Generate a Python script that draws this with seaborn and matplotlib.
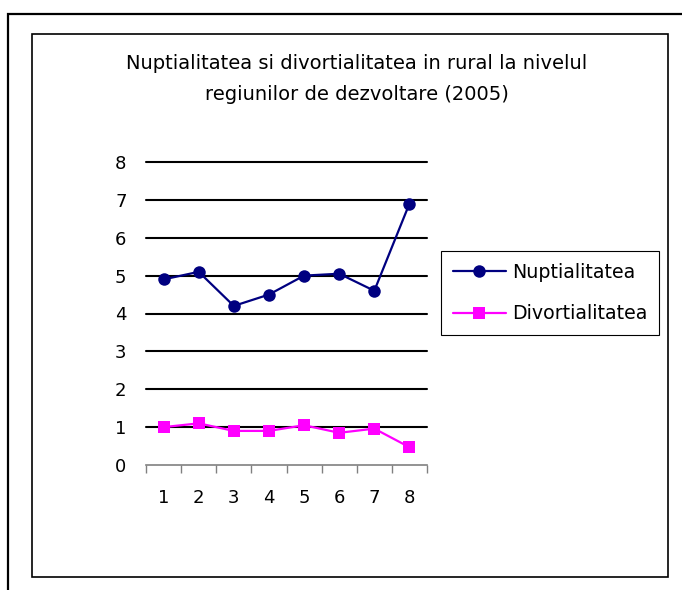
import matplotlib
matplotlib.use("Agg")
import matplotlib.pyplot as plt
import seaborn as sns
import pandas as pd
from matplotlib.patches import Rectangle

regions = [1, 2, 3, 4, 5, 6, 7, 8]
nuptialitatea = [4.9, 5.1, 4.2, 4.5, 5.0, 5.05, 4.6, 6.9]
divortialitatea = [1.0, 1.1, 0.9, 0.9, 1.05, 0.85, 0.96, 0.47]
series_names = ["Nuptialitatea", "Divortialitatea"]
title = "Nuptialitatea si divortialitatea in rural la nivelul\nregiunilor de dezvoltare (2005)"

sns.set_theme(style="white")
plt.rcParams['font.family'] = ['DejaVu Sans']
plt.rcParams['text.color'] = 'black'

df = pd.DataFrame({
    "regiune": regions * 2,
    "valoare": nuptialitatea + divortialitatea,
    "serie": [series_names[0]] * len(regions) + [series_names[1]] * len(regions),
})

W, H = 682, 590
fig = plt.figure(figsize=(W / 100, H / 100), dpi=100)
fig.patch.set_facecolor("white")

# frames
fig.patches.append(Rectangle((8 / W, -0.05), 1.2, 1 - 14 / H + 0.05, transform=fig.transFigure,
                             fill=False, edgecolor="black", linewidth=1.6, zorder=0))
fig.patches.append(Rectangle((32 / W, 1 - 577 / H), (668 - 32) / W, (577 - 34) / H,
                             transform=fig.transFigure, fill=False, edgecolor="black",
                             linewidth=1.2, zorder=0))

ax = fig.add_axes([146 / W, 1 - 465 / H, (427 - 146) / W, (465 - 162) / H])
ax.set_facecolor("none")

sns.lineplot(data=df, x="regiune", y="valoare", hue="serie", style="serie",
             palette={series_names[0]: "#000080", series_names[1]: "#FF00FF"},
             markers={series_names[0]: "o", series_names[1]: "s"},
             dashes=False, linewidth=1.6, markersize=9, markeredgewidth=0,
             ax=ax, legend=True, zorder=3)

ax.set_xlim(0.5, 8.5)
ax.set_ylim(0, 8)
ax.set_yticks(range(0, 9))
ax.set_xticks(regions)
ax.set_xticks([r + 0.5 for r in [0] + regions], minor=True)
ax.set_xlabel("")
ax.set_ylabel("")
for y in range(1, 9):
    ax.axhline(y, color="black", linewidth=1.5, zorder=0.5, clip_on=False)
for s in ["top", "right", "left"]:
    ax.spines[s].set_visible(False)
ax.spines["bottom"].set_color("#808080")
ax.spines["bottom"].set_linewidth(1.2)
ax.tick_params(axis="x", which="major", length=0, pad=17, labelsize=13, colors="black")
ax.tick_params(axis="x", which="minor", length=6, width=1.0, color="#808080", direction="out", bottom=True)
ax.tick_params(axis="y", length=0, pad=14, labelsize=13, colors="black")
ax.grid(False)

fig.text(357 / W, 1 - 79 / H, title, ha="center", va="center", fontsize=14,
         linespacing=1.85, color="black")

handles, labels = ax.get_legend_handles_labels()
ax.legend_.remove()
leg = fig.legend(handles, labels, loc="upper left",
                 bbox_to_anchor=(441 / W, 1 - 251 / H), fontsize=13.7,
                 frameon=True, fancybox=False, edgecolor="black", framealpha=1,
                 handlelength=2.8, handletextpad=0.3, borderpad=0.62, labelspacing=1.18,
                 borderaxespad=0, labelcolor="black")
leg.get_frame().set_linewidth(0.8)

fig.savefig("out.png", dpi=100, facecolor="white")
